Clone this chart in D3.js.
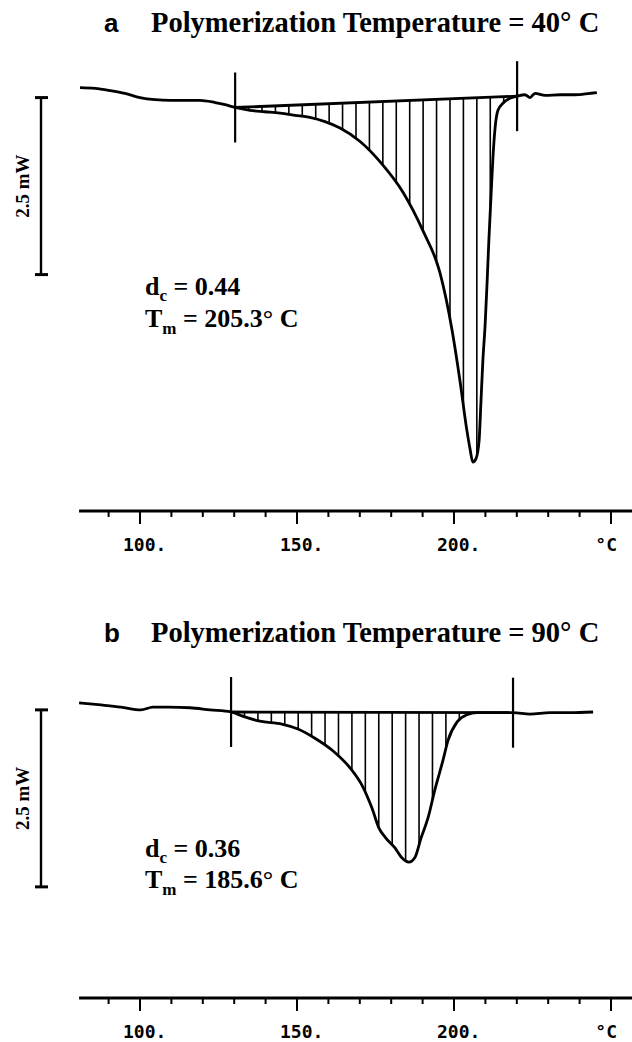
<!DOCTYPE html>
<html lang="en">
<head>
<meta charset="UTF-8">
<title>DSC melting endotherms</title>
<script src="https://cdn.jsdelivr.net/npm/d3@7"></script>
<style>
  body { margin: 0; background: #fff; }
  svg { display: block; }
  .trace { fill: none; stroke: #000; stroke-width: 2.8; stroke-linejoin: round; }
  .hatch { stroke: #000; stroke-width: 1.6; }
  .base { stroke: #000; stroke-width: 2.8; }
  .marker { stroke: #000; stroke-width: 2.2; }
  .title { font-family: "Liberation Serif", "Times New Roman", serif; font-weight: bold; font-size: 28.5px; }
  .letter { font-family: "Liberation Sans", Arial, sans-serif; font-weight: bold; font-size: 26px; }
  .note { font-family: "Liberation Serif", "Times New Roman", serif; font-weight: bold; font-size: 26px; }
  .barlabel { font-family: "Liberation Serif", "Times New Roman", serif; font-weight: bold; font-size: 19px; }
  .ticklabel { font-family: "DejaVu Sans Mono", monospace; font-weight: bold; font-size: 18px; }
</style>
</head>
<body>
<svg width="632" height="1042"></svg>
<script>
// heat flow traces (mW, endotherm downward)
const tempA = [80.9, 85.7, 90.4, 95.2, 100.0, 104.8, 109.6, 114.3, 119.1, 123.9, 127.1, 130.3, 135.0, 139.8, 144.6, 149.4, 154.1, 158.9, 163.7, 170.1, 177.1, 183.8, 190.1, 195.5, 199.4, 201.9, 204.1, 205.1, 206.0, 207.0, 208.0, 208.6, 209.2, 209.9, 210.5, 211.1, 211.8, 212.4, 213.1, 214.0, 215.6, 217.8, 220.1, 222.6, 224.2, 225.8, 229.0, 233.8, 238.5, 243.3, 245.5];
const flowA = [0.28, 0.27, 0.24, 0.20, 0.14, 0.11, 0.10, 0.10, 0.10, 0.07, 0.04, 0.00, -0.04, -0.06, -0.08, -0.11, -0.14, -0.20, -0.29, -0.48, -0.80, -1.20, -1.74, -2.33, -3.15, -3.86, -4.56, -4.82, -5.01, -4.96, -4.70, -4.14, -3.57, -3.08, -2.51, -1.88, -1.24, -0.71, -0.28, -0.04, 0.06, 0.13, 0.16, 0.18, 0.14, 0.20, 0.17, 0.18, 0.18, 0.20, 0.21];
const limitsA = [130.3, 220.1];

const tempB = [80.6, 87.6, 93.9, 100.3, 104.1, 109.2, 115.9, 122.3, 129.0, 133.4, 138.2, 145.2, 150.3, 155.7, 161.5, 166.9, 171.0, 173.9, 176.1, 178.3, 181.2, 183.4, 185.6, 187.6, 189.5, 191.7, 193.9, 196.5, 198.1, 201.0, 204.1, 207.3, 211.5, 218.8, 224.2, 230.6, 236.9, 244.3];
const flowB = [0.13, 0.10, 0.07, 0.03, 0.07, 0.07, 0.06, 0.03, 0.00, -0.07, -0.13, -0.17, -0.24, -0.37, -0.55, -0.79, -1.06, -1.36, -1.64, -1.78, -1.92, -2.06, -2.12, -2.05, -1.78, -1.50, -1.10, -0.68, -0.40, -0.14, -0.04, -0.01, -0.01, -0.01, -0.03, -0.01, -0.01, 0.00];
const limitsB = [129.0, 218.8];

const letters = ['a', 'b'];
const titles = ['Polymerization Temperature = 40° C', 'Polymerization Temperature = 90° C'];
const dcValues = ['0.44', '0.36'];
const tmValues = ['205.3', '185.6'];

const tickValues = d3.range(90, 251, 10);
const majorTicks = [100, 150, 200, 250];
const tickLabels = { 100: '100.', 150: '150.', 200: '200.', 250: '°C' };
const barMW = 2.5;

const svg = d3.select('svg');
const pxPerMW = 70.8;

const x = d3.scaleLinear().domain([100, 250]).range([140, 611]);
const axisStart = 80.6;

const panels = [
  { temp: tempA, flow: flowA, limits: limitsA, zero: 107.5, axisY: 511, titleY: 32, barTop: 0.14, dcY: 295, tmY: 327 },
  { temp: tempB, flow: flowB, limits: limitsB, zero: 712, axisY: 998, titleY: 642, barTop: 0.03, dcY: 857, tmY: 888 }
];

panels.forEach((p, i) => {
  const y = d3.scaleLinear().domain([0, -1]).range([p.zero, p.zero + pxPerMW]);
  const g = svg.append('g');

  // title
  g.append('text').attr('class', 'letter').attr('x', 104).attr('y', p.titleY).text(letters[i]);
  g.append('text').attr('class', 'title').attr('x', 151).attr('y', p.titleY).text(titles[i]);

  // scale bar
  const b0 = y(p.barTop), b1 = y(p.barTop - barMW);
  g.append('line').attr('x1', 41).attr('x2', 41).attr('y1', b0).attr('y2', b1)
    .attr('stroke', '#000').attr('stroke-width', 2.4);
  [b0, b1].forEach(yy => {
    g.append('line').attr('x1', 35).attr('x2', 48).attr('y1', yy).attr('y2', yy)
      .attr('stroke', '#000').attr('stroke-width', 3);
  });
  g.append('text').attr('class', 'barlabel')
    .attr('transform', `translate(29,${(b0 + b1) / 2}) rotate(-90)`)
    .attr('text-anchor', 'middle').text(barMW + ' mW');

  // hatched area between baseline and trace
  const f = d3.scaleLinear().domain(p.temp).range(p.flow);
  const [t0, t1] = p.limits;
  const base = d3.scaleLinear().domain([t0, t1]).range([f(t0), f(t1)]);
  const n = 21;
  const step = (t1 - t0) / n;
  g.selectAll('line.hatch').data(d3.range(1, n).map(k => t0 + k * step))
    .join('line').attr('class', 'hatch')
    .attr('x1', d => x(d)).attr('x2', d => x(d))
    .attr('y1', d => y(base(d))).attr('y2', d => y(f(d)));

  g.append('line').attr('class', 'base')
    .attr('x1', x(t0)).attr('x2', x(t1)).attr('y1', y(base(t0))).attr('y2', y(base(t1)));

  [t0, t1].forEach(t => {
    g.append('line').attr('class', 'marker')
      .attr('x1', x(t)).attr('x2', x(t))
      .attr('y1', y(base(t)) - 35).attr('y2', y(base(t)) + 35);
  });

  const line = d3.line().x(d => x(d[0])).y(d => y(d[1])).curve(d3.curveMonotoneX);
  g.append('path').attr('class', 'trace').attr('d', line(d3.zip(p.temp, p.flow)));

  // annotations
  const dc = g.append('text').attr('class', 'note').attr('x', 145).attr('y', p.dcY);
  dc.append('tspan').text('d');
  dc.append('tspan').attr('font-size', 17).attr('dy', 6).text('c');
  dc.append('tspan').attr('dy', -6).text(' = ' + dcValues[i]);
  const tm = g.append('text').attr('class', 'note').attr('x', 145).attr('y', p.tmY);
  tm.append('tspan').text('T');
  tm.append('tspan').attr('font-size', 17).attr('dy', 7).text('m');
  tm.append('tspan').attr('dy', -7).text(' = ' + tmValues[i] + '° C');

  // temperature axis
  const ax = g.append('g');
  ax.append('line').attr('x1', x(axisStart)).attr('x2', 632)
    .attr('y1', p.axisY).attr('y2', p.axisY).attr('stroke', '#000').attr('stroke-width', 3);
  ax.selectAll('line.tick').data(tickValues).join('line').attr('class', 'tick')
    .attr('x1', d => x(d)).attr('x2', d => x(d))
    .attr('y1', p.axisY).attr('y2', d => p.axisY + (majorTicks.includes(d) ? 13 : 6))
    .attr('stroke', '#000').attr('stroke-width', 2);
  ax.selectAll('text').data(majorTicks).join('text').attr('class', 'ticklabel')
    .attr('x', d => d === 250 ? x(d) + 6 : x(d) - 17)
    .attr('text-anchor', d => d === 250 ? 'end' : 'start')
    .attr('y', p.axisY + 40)
    .text(d => tickLabels[d]);
});
</script>
</body>
</html>
